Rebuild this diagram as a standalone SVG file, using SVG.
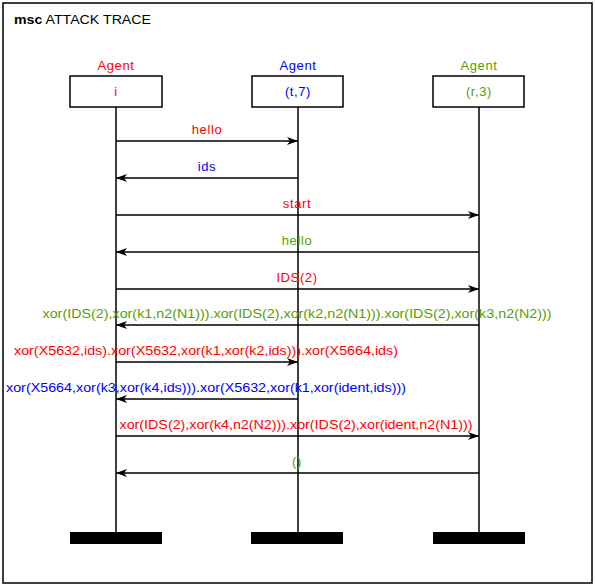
<svg xmlns="http://www.w3.org/2000/svg" width="595" height="587" viewBox="0 0 595 587">
<defs>
<style>
text{font-family:"Liberation Sans",Arial,sans-serif;font-size:13px;letter-spacing:0.6px}
.c{text-anchor:middle}
.r{fill:#ff0000}.b{fill:#0000ff}.g{fill:#55a000}
.box{fill:#fff;stroke:#000;stroke-width:1.5}
.life{stroke:#000;stroke-width:1.5}
.msg{stroke:#000;stroke-width:1.5;fill:none;marker-end:url(#ah)}
</style>
<marker id="ah" markerUnits="userSpaceOnUse" markerWidth="14" markerHeight="10" refX="12" refY="5" orient="auto" viewBox="0 0 14 10">
<path d="M12,5 L1,1 L4,5 L1,9 Z" fill="#000"/>
</marker>
</defs>
<rect width="595" height="587" fill="#fff"/>
<rect x="3" y="3" width="589" height="580" fill="none" stroke="#000" stroke-width="1.5"/>
<text x="14" y="24" textLength="137" lengthAdjust="spacingAndGlyphs" style="letter-spacing:0"><tspan font-weight="bold">msc</tspan> ATTACK TRACE</text>
<g id="agent-i">
<text class="c r" x="116" y="70">Agent</text>
<rect class="box" x="70" y="76" width="92" height="31"/>
<text class="c r" x="116" y="96">i</text>
<line class="life" x1="116" y1="107" x2="116" y2="532"/>
<rect x="70" y="532" width="92" height="12" fill="#000"/>
</g>
<g id="agent-t7">
<text class="c b" x="298" y="70">Agent</text>
<rect class="box" x="252" y="76" width="91" height="31"/>
<text class="c b" x="298" y="96">(t,7)</text>
<line class="life" x1="298" y1="107" x2="298" y2="532"/>
<rect x="251" y="532" width="92" height="12" fill="#000"/>
</g>
<g id="agent-r3">
<text class="c g" x="479" y="70">Agent</text>
<rect class="box" x="433" y="76" width="91" height="31"/>
<text class="c g" x="479" y="96">(r,3)</text>
<line class="life" x1="479" y1="107" x2="479" y2="532"/>
<rect x="433" y="532" width="92" height="12" fill="#000"/>
</g>
<g id="connectors">
<line class="msg" x1="116" y1="141" x2="298" y2="141"/>
<text class="c r" x="207" y="134">hello</text>
<line class="msg" x1="298" y1="178" x2="116" y2="178"/>
<text class="c b" x="207" y="171">ids</text>
<line class="msg" x1="116" y1="215" x2="479" y2="215"/>
<text class="c r" x="297" y="208">start</text>
<line class="msg" x1="479" y1="252" x2="116" y2="252"/>
<text class="c g" x="297" y="245">hello</text>
<line class="msg" x1="116" y1="289" x2="479" y2="289"/>
<text class="c r" x="297" y="282">IDS(2)</text>
<line class="msg" x1="479" y1="325" x2="116" y2="325"/>
<text class="c g" x="297" y="318" textLength="509" lengthAdjust="spacingAndGlyphs" style="letter-spacing:0">xor(IDS(2),xor(k1,n2(N1))).xor(IDS(2),xor(k2,n2(N1))).xor(IDS(2),xor(k3,n2(N2)))</text>
<line class="msg" x1="116" y1="362" x2="298" y2="362"/>
<text class="c r" x="206" y="355" textLength="384" lengthAdjust="spacingAndGlyphs" style="letter-spacing:0">xor(X5632,ids).xor(X5632,xor(k1,xor(k2,ids))).xor(X5664,ids)</text>
<line class="msg" x1="298" y1="399" x2="116" y2="399"/>
<text class="c b" x="206" y="392" textLength="400" lengthAdjust="spacingAndGlyphs" style="letter-spacing:0">xor(X5664,xor(k3,xor(k4,ids))).xor(X5632,xor(k1,xor(ident,ids)))</text>
<line class="msg" x1="116" y1="436" x2="479" y2="436"/>
<text class="c r" x="296" y="429" textLength="353" lengthAdjust="spacingAndGlyphs" style="letter-spacing:0">xor(IDS(2),xor(k4,n2(N2))).xor(IDS(2),xor(ident,n2(N1)))</text>
<line class="msg" x1="479" y1="473" x2="116" y2="473"/>
<text class="c g" x="297" y="466">()</text>
</g>
</svg>
